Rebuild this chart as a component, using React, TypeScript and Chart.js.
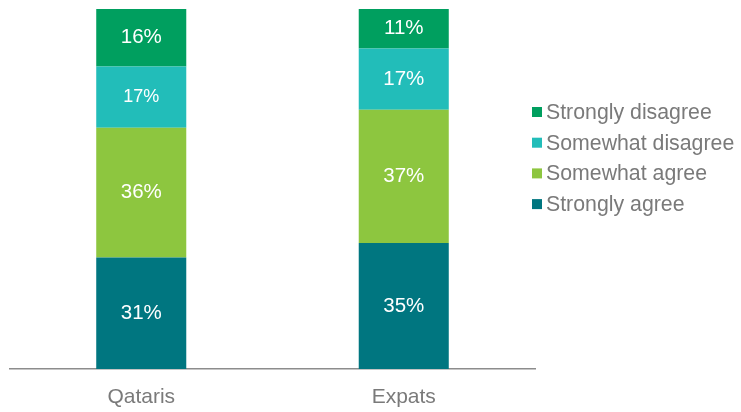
import React, { useEffect, useRef } from "react";
import { Chart, registerables } from "chart.js";

Chart.register(...registerables);

const categories = ["Qataris", "Expats"];
const stronglyAgree = [31, 35];
const somewhatAgree = [36, 37];
const somewhatDisagree = [17, 17];
const stronglyDisagree = [16, 11];
const seriesLabels = ["Strongly agree", "Somewhat agree", "Somewhat disagree", "Strongly disagree"];
const seriesColors = ["#007680", "#8DC63F", "#22BDB9", "#009F5F"];

const FONT = "'Liberation Sans', Arial, sans-serif";
const TEXT_GRAY = "#7a7a7a";

const valueLabelPlugin = {
  id: "valueLabels",
  afterDatasetsDraw(chart: any) {
    const ctx = chart.ctx;
    ctx.save();
    ctx.fillStyle = "#ffffff";
    ctx.textAlign = "center";
    ctx.textBaseline = "middle";
    chart.data.datasets.forEach((ds: any, i: number) => {
      const meta = chart.getDatasetMeta(i);
      meta.data.forEach((bar: any, j: number) => {
        const cy = (bar.y + bar.base) / 2;
        const small = i === 2 && j === 0;
        ctx.font = `${small ? 18 : 20.5}px ${FONT}`;
        ctx.fillText(ds.data[j] + "%", bar.x, cy);
      });
    });
    ctx.restore();
  },
};

const legendPlugin = {
  id: "customLegend",
  afterDraw(chart: any) {
    const ctx = chart.ctx;
    ctx.save();
    ctx.font = `21.3px ${FONT}`;
    ctx.textBaseline = "middle";
    ctx.textAlign = "left";
    const n = chart.data.datasets.length;
    const startY = 112;
    const step = 30.7;
    for (let k = 0; k < n; k++) {
      const ds = chart.data.datasets[n - 1 - k];
      const y = startY + k * step;
      ctx.fillStyle = ds.backgroundColor;
      ctx.fillRect(532, y - 5, 10, 10);
      ctx.fillStyle = TEXT_GRAY;
      ctx.fillText(ds.label, 546, y + 1);
    }
    ctx.restore();
  },
};

export default function App() {
  const ref = useRef<HTMLCanvasElement>(null);
  useEffect(() => {
    if (!ref.current) return;
    const values = [stronglyAgree, somewhatAgree, somewhatDisagree, stronglyDisagree];
    const chart = new Chart(ref.current, {
      type: "bar",
      data: {
        labels: categories,
        datasets: values.map((v, i) => ({
          label: seriesLabels[i],
          data: v,
          backgroundColor: seriesColors[i],
          borderWidth: 0,
          barPercentage: 0.343,
          categoryPercentage: 1,
        })),
      },
      options: {
        animation: false,
        responsive: false,
        maintainAspectRatio: false,
        layout: { padding: { top: 9, left: 10, right: 206, bottom: 0 } },
        plugins: { legend: { display: false }, tooltip: { enabled: false } },
        scales: {
          x: {
            stacked: true,
            grid: { display: false },
            border: { display: true, color: "#8c8c8c", width: 1.5 },
            ticks: { color: TEXT_GRAY, font: { family: FONT, size: 21 }, padding: 8 },
            afterFit: (scale: any) => {
              scale.height = 43;
            },
          },
          y: {
            stacked: true,
            display: false,
            min: 0,
            max: 100,
          },
        },
      },
      plugins: [valueLabelPlugin, legendPlugin],
    });
    return () => chart.destroy();
  }, []);
  return (
    <div style={{ position: "absolute", left: 0, top: 0, width: 741, height: 412 }}>
      <canvas ref={ref} width={741} height={412} style={{ width: 741, height: 412 }} />
    </div>
  );
}
